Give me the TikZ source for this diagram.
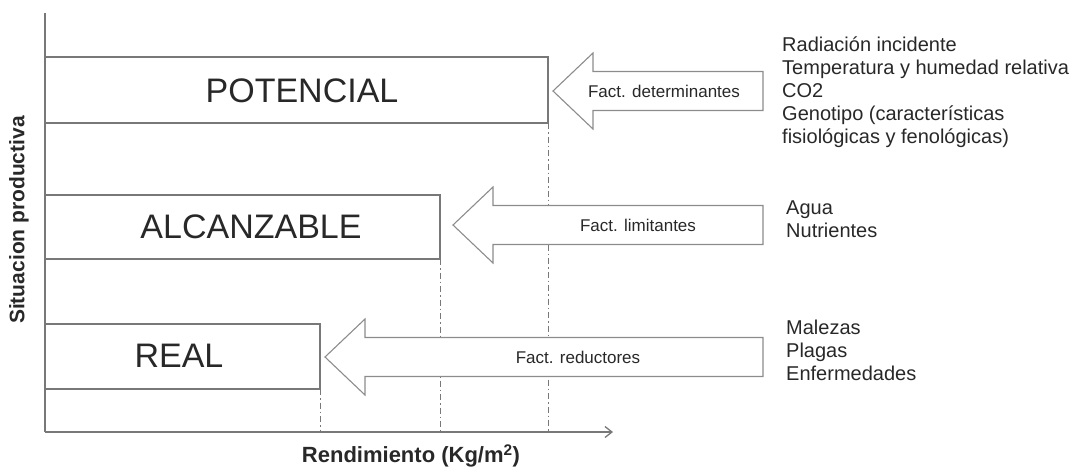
\documentclass[tikz,border=0pt]{standalone}
\usepackage{fontspec}
\setmainfont{Liberation Sans}
\usetikzlibrary{arrows.meta}
\definecolor{linegray}{RGB}{120,120,120}
\definecolor{arrowgray}{RGB}{140,140,140}
\definecolor{txt}{RGB}{40,40,40}
\tikzset{
  boxline/.style={draw=linegray, line width=1.3pt},
  axisline/.style={draw=linegray, line width=1.3pt},
  guide/.style={draw=linegray, line width=0.9pt, dash pattern=on 6pt off 3pt on 1.5pt off 3pt},
  blockarrow/.style={draw=arrowgray, line width=1.1pt, fill=white, line join=miter},
  bigtext/.style={font=\fontsize{34}{38}\selectfont, text=txt, inner sep=0pt},
  arrowtext/.style={font=\fontsize{17}{20}\selectfont, text=txt, inner sep=0pt},
  sidetext/.style={font=\fontsize{20}{23}\selectfont, text=txt, align=left, anchor=north west, inner sep=0pt},
  axislabel/.style={font=\bfseries\fontsize{21}{24}\selectfont, text=txt, inner sep=0pt}
}
\newcommand{\myblockarrow}[3]{% tipx, y, rightx
  \draw[blockarrow] (#1,#2) -- ++(40,-38) -- ++(0,18.5) -- (#3,#2-19.5) -- (#3,#2+19.5) -- (#1+40,#2+19.5) -- ++(0,18.5) -- cycle;
}
\begin{document}
\begin{tikzpicture}[x=1pt,y=-1pt]
\useasboundingbox (0,0) rectangle (1073,474);
% axes
\coordinate (origin) at (45,432);
\coordinate (ytop) at (45,13);
\coordinate (xend) at (613,432);
\draw[axisline] (ytop) -- (origin);
\draw[axisline, -{Straight Barb[length=7pt,width=11pt]}] (origin) -- (xend);
% boxes
\draw[boxline] (45,57) -- (548,57) -- (548,123) -- (45,123);
\draw[boxline] (45,195) -- (440,195) -- (440,259) -- (45,259);
\draw[boxline] (45,324) -- (320,324) -- (320,389) -- (45,389);
\node[bigtext] (pot) at (302,91) {POTENCIAL};
\node[bigtext] (alc) at (251,227) {ALCANZABLE};
\node[bigtext] (real) at (179,356) {REAL};
% guides
\coordinate (g1a) at (548,123); \coordinate (g1b) at (548,432);
\coordinate (g2a) at (440,259); \coordinate (g2b) at (440,432);
\coordinate (g3a) at (320,389); \coordinate (g3b) at (320,432);
\draw[guide] (g1a) -- (g1b);
\draw[guide] (g2a) -- (g2b);
\draw[guide] (g3a) -- (g3b);
% block arrows
\myblockarrow{553}{91}{763}
\myblockarrow{453}{225}{763}
\myblockarrow{325}{357}{763}
\node[arrowtext] (fd) at (664,91) {Fact. determinantes};
\node[arrowtext] (fl) at (638,225) {Fact. limitantes};
\node[arrowtext] (fr) at (578,357) {Fact. reductores};
% side texts
\node[sidetext] (t1) at (782,37) {Radiación incidente\\Temperatura y humedad relativa\\CO2\\Genotipo (características\\fisiológicas y fenológicas)};
\node[sidetext] (t2) at (786,201) {Agua\\Nutrientes};
\node[sidetext] (t3) at (786,320) {Malezas\\Plagas\\Enfermedades};
% axis labels
\node[axislabel, rotate=90] (ylab) at (19,220) {Situacion productiva};
\node[axislabel, font=\bfseries\fontsize{22}{24}\selectfont] (xlab) at (411,456) {Rendimiento (Kg/m\textsuperscript{2})};
\end{tikzpicture}
\end{document}
